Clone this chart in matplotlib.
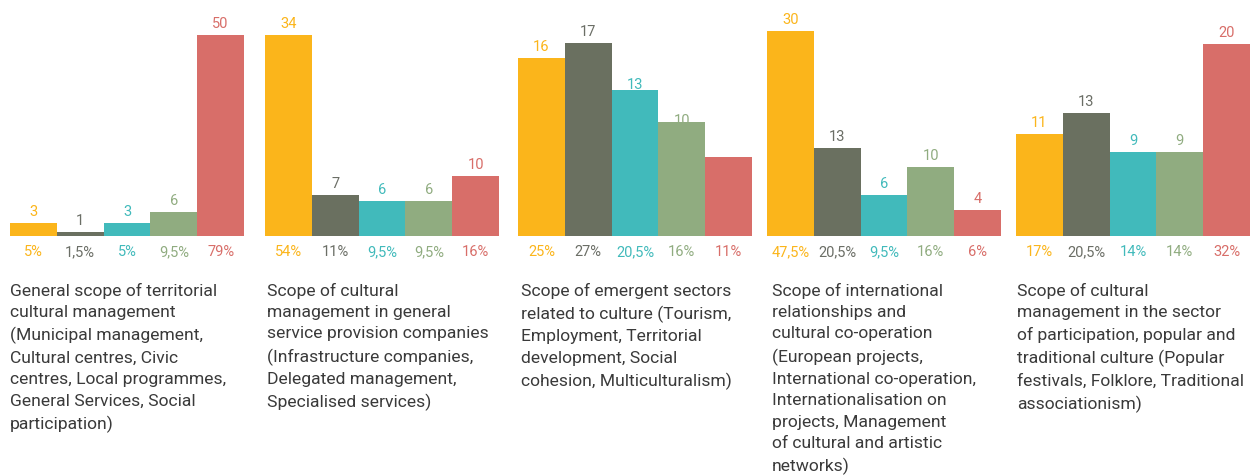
import matplotlib
matplotlib.use("Agg")
import matplotlib.pyplot as plt
from matplotlib.transforms import offset_copy

# ---- data ----
groups = [
    "General scope of territorial\ncultural management\n(Municipal management,\nCultural centres, Civic\ncentres, Local programmes,\nGeneral Services, Social\nparticipation)",
    "Scope of cultural\nmanagement in general\nservice provision companies\n(Infrastructure companies,\nDelegated management,\nSpecialised services)",
    "Scope of emergent sectors\nrelated to culture (Tourism,\nEmployment, Territorial\ndevelopment, Social\ncohesion, Multiculturalism)",
    "Scope of international\nrelationships and\ncultural co-operation\n(European projects,\nInternational co-operation,\nInternationalisation on\nprojects, Management\nof cultural and artistic\nnetworks)",
    "Scope of cultural\nmanagement in the sector\nof participation, popular and\ntraditional culture (Popular\nfestivals, Folklore, Traditional\nassociationism)",
]
counts = [
    ["3", "1", "3", "6", "50"],
    ["34", "7", "6", "6", "10"],
    ["16", "17", "13", "10", ""],
    ["30", "13", "6", "10", "4"],
    ["11", "13", "9", "9", "20"],
]
pct_values = [
    [5, 1.5, 5, 9.5, 79],
    [54, 11, 9.5, 9.5, 16],
    [25, 27, 20.5, 16, 11],
    [47.5, 20.5, 9.5, 16, 6],
    [17, 20.5, 14, 14, 32],
]
pct_labels = [
    ["5%", "1,5%", "5%", "9,5%", "79%"],
    ["54%", "11%", "9,5%", "9,5%", "16%"],
    ["25%", "27%", "20,5%", "16%", "11%"],
    ["47,5%", "20,5%", "9,5%", "16%", "6%"],
    ["17%", "20,5%", "14%", "14%", "32%"],
]

# ---- style ----
bar_colors = ["#FBB51B", "#6A7060", "#41BABB", "#90AC80", "#D86E69"]
text_colors = ["#FBB51B", "#6B6E66", "#41BABB", "#90AC80", "#D86E69"]
W, H = 1252, 477
lefts_px = [10, 265, 518, 767, 1016]
text_x_px = [10, 267, 521, 772, 1017]
width_px = 234
base_px = 237
top_px = 30
ymax = [81.4, 55.6, 29.0, 48.0, 34.5]
label_off = [
    [12, 12, 12, 12, 12],
    [12, 12, 12, 12, 12],
    [12, 12, 6, 2, 12],
    [12, 12, 12, 12, 12],
    [12, 12, 12, 12, 12],
]

plt.rcParams["font.family"] = ["Roboto", "DejaVu Sans"]
fig = plt.figure(figsize=(W / 100, H / 100), dpi=100)

for g in range(5):
    ax = fig.add_axes([lefts_px[g] / W, 1 - base_px / H,
                       width_px / W, (base_px - top_px) / H])
    xs = list(range(5))
    ax.bar(xs, pct_values[g], width=1.0, color=bar_colors, zorder=3, linewidth=0)
    ax.set_xlim(-0.5, 4.5)
    ax.set_ylim(0, ymax[g])
    ax.axis("off")
    for i in xs:
        if counts[g][i]:
            tr = offset_copy(ax.transData, fig=fig, x=0,
                             y=label_off[g][i] * 0.72, units="points")
            ax.text(i, pct_values[g][i], counts[g][i], transform=tr,
                    ha="center", va="center", fontsize=10.5,
                    color=text_colors[i], zorder=2, clip_on=False)
        trp = offset_copy(ax.transData, fig=fig, x=0, y=-15.5 * 0.72,
                          units="points")
        ax.text(i, 0, pct_labels[g][i], transform=trp, ha="center",
                va="center", fontsize=10.5, color=text_colors[i],
                clip_on=False)
    fig.text(text_x_px[g] / W, 1 - 282.5 / H, groups[g],
             ha="left", va="top", fontsize=12.6, color="#3A3A3A",
             linespacing=1.53)

fig.savefig("out.png", dpi=100, facecolor="white")
